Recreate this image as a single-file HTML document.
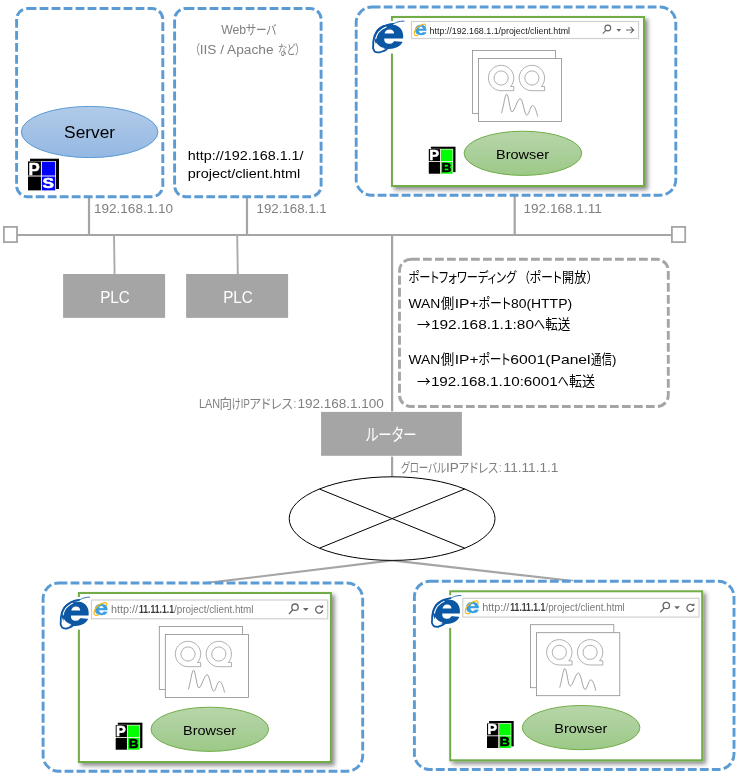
<!DOCTYPE html>
<html lang="ja">
<head>
<meta charset="utf-8">
<title>Network diagram</title>
<style>
html,body{margin:0;padding:0;background:#fff;}
svg{display:block;opacity:0.999;}
text{font-family:"Liberation Sans", "Noto Sans CJK JP", sans-serif;font-kerning:normal;}
.jp{font-feature-settings:"palt" 1;font-weight:400;}
.cj{font-family:"Noto Sans CJK JP","Liberation Sans",sans-serif;font-weight:400;}
</style>
</head>
<body>
<svg width="742" height="777" viewBox="0 0 742 777">
<defs>
<linearGradient id="gb" x1="0" y1="0" x2="0" y2="1"><stop offset="0" stop-color="#b1cbe9"/><stop offset="0.5" stop-color="#a3c1e5"/><stop offset="1" stop-color="#94b8e3"/></linearGradient>
<linearGradient id="gg" x1="0" y1="0" x2="0" y2="1"><stop offset="0" stop-color="#b7d6a9"/><stop offset="0.5" stop-color="#aacf9a"/><stop offset="1" stop-color="#9dc987"/></linearGradient>
<filter id="sh" x="-5%" y="-5%" width="115%" height="115%"><feDropShadow dx="2.8" dy="2.8" stdDeviation="2.1" flood-color="#000" flood-opacity="0.45"/></filter>
</defs>
<rect width="742" height="777" fill="#fff"/>

<line x1="17" y1="235" x2="672" y2="235" stroke="#a5a5a5" stroke-width="2.2"/>
<line x1="89" y1="196" x2="89" y2="235" stroke="#a5a5a5" stroke-width="2.2"/>
<line x1="247" y1="196" x2="247" y2="235" stroke="#a5a5a5" stroke-width="2.2"/>
<line x1="514.7" y1="195" x2="514.7" y2="235" stroke="#a5a5a5" stroke-width="2.2"/>
<line x1="114.0" y1="235" x2="114.6" y2="274" stroke="#ababab" stroke-width="1.9"/>
<line x1="237.2" y1="235" x2="237.8" y2="274" stroke="#ababab" stroke-width="1.9"/>
<line x1="392.1" y1="235" x2="392.1" y2="411.4" stroke="#a5a5a5" stroke-width="2.2"/>
<line x1="392.1" y1="456.6" x2="392.1" y2="477" stroke="#a5a5a5" stroke-width="2.2"/>
<rect x="3.9" y="226.9" width="13.1" height="15.2" fill="#fff" stroke="#a5a5a5" stroke-width="1.8"/>
<rect x="671.9" y="226.9" width="13.3" height="15.2" fill="#fff" stroke="#a5a5a5" stroke-width="1.8"/>
<line x1="392" y1="560.4" x2="203.6" y2="583.4" stroke="#a5a5a5" stroke-width="2.2"/>
<line x1="392" y1="560.4" x2="573.5" y2="581" stroke="#a5a5a5" stroke-width="2.2"/>
<rect x="16.6" y="8.5" width="146.2" height="188.2" rx="11" ry="11" fill="#fff" stroke="#5b9bd5" stroke-width="2.9" stroke-dasharray="8.8 3.2"/>
<rect x="174.6" y="8.5" width="146.5" height="188.2" rx="11" ry="11" fill="#fff" stroke="#5b9bd5" stroke-width="2.9" stroke-dasharray="8.8 3.2"/>
<ellipse cx="89.6" cy="132" rx="68.3" ry="25.6" fill="url(#gb)" stroke="#5b9bd5" stroke-width="1"/>
<text x="89.6" y="137.6" font-size="16" fill="#000" text-anchor="middle" textLength="51" lengthAdjust="spacingAndGlyphs">Server</text>
<g>
<rect x="30.00" y="158.70" width="29.00" height="30.30" fill="#000"/>
<rect x="28.00" y="161.10" width="28.00" height="29.60" fill="#f4f2e4"/>
<rect x="28.00" y="161.40" width="12.91" height="14.12" fill="#000"/>
<rect x="41.92" y="161.80" width="13.24" height="13.72" fill="#0000ff"/>
<rect x="28.00" y="176.52" width="12.91" height="13.82" fill="#000"/>
<rect x="41.92" y="176.52" width="13.24" height="13.82" fill="#0000ff"/>
<text x="34.10" y="174.62" font-size="17.02" font-weight="bold" fill="#fff" stroke="#fff" stroke-width="0.5" text-anchor="middle" textLength="11.20" lengthAdjust="spacingAndGlyphs">P</text>
<text x="48.34" y="188.10" font-size="14.06" font-weight="bold" fill="#fff" stroke="#fff" stroke-width="0.5" text-anchor="middle" textLength="11.48" lengthAdjust="spacingAndGlyphs">S</text>
</g>
<text y="34.1" font-size="12" fill="#7f7f7f"><tspan x="221.2" textLength="24.9" lengthAdjust="spacingAndGlyphs">Web</tspan><tspan x="246.1" textLength="30.4" lengthAdjust="spacingAndGlyphs" font-size="13" class="jp">サーバ</tspan></text>
<text y="53.9" font-size="12" fill="#7f7f7f"><tspan x="195.0" textLength="4.8" lengthAdjust="spacingAndGlyphs" font-size="13" class="jp">（</tspan><tspan x="199.7" textLength="73.9" lengthAdjust="spacingAndGlyphs">IIS / Apache</tspan><tspan x="278.2" textLength="16.9" lengthAdjust="spacingAndGlyphs" font-size="13" class="jp">など</tspan><tspan x="295.4" textLength="4.8" lengthAdjust="spacingAndGlyphs" font-size="13" class="jp">）</tspan></text>
<text x="187.8" y="160" font-size="13.3" fill="#000" textLength="115.8" lengthAdjust="spacingAndGlyphs">http://192.168.1.1/</text>
<text x="187.8" y="178.2" font-size="13.3" fill="#000" textLength="112.4" lengthAdjust="spacingAndGlyphs">project/client.html</text>
<text x="94" y="212.8" font-size="12" fill="#7f7f7f" textLength="79" lengthAdjust="spacingAndGlyphs">192.168.1.10</text>
<text x="256.5" y="212.8" font-size="12" fill="#7f7f7f" textLength="70.2" lengthAdjust="spacingAndGlyphs">192.168.1.1</text>
<text x="523.5" y="212.6" font-size="12" fill="#7f7f7f" textLength="78.3" lengthAdjust="spacingAndGlyphs">192.168.1.11</text>
<rect x="63.1" y="274" width="102" height="43.9" fill="#a5a5a5"/>
<rect x="186.1" y="274" width="102" height="43.9" fill="#a5a5a5"/>
<text x="115" y="302.6" font-size="16" fill="#fff" text-anchor="middle" textLength="29.6" lengthAdjust="spacingAndGlyphs">PLC</text>
<text x="238" y="302.6" font-size="16" fill="#fff" text-anchor="middle" textLength="29.6" lengthAdjust="spacingAndGlyphs">PLC</text>
<rect x="399.5" y="259.3" width="268.8" height="147.2" rx="11.5" ry="11.5" fill="#fff" stroke="#a5a5a5" stroke-width="2.9" stroke-dasharray="8.8 3.2"/>
<text y="282.3" font-size="13.3" fill="#000"><tspan x="408.5" textLength="107.8" lengthAdjust="spacingAndGlyphs" font-size="14.2" class="jp">ポートフォワーディング</tspan><tspan x="523.8" textLength="5.8" lengthAdjust="spacingAndGlyphs" font-size="14.2" class="jp">（</tspan><tspan x="529.6" textLength="32.5" lengthAdjust="spacingAndGlyphs" font-size="14.2" class="jp">ポート</tspan><tspan x="562.1" textLength="24.3" lengthAdjust="spacingAndGlyphs" font-size="14.2" class="jp">開放</tspan><tspan x="587.0" textLength="5.8" lengthAdjust="spacingAndGlyphs" font-size="14.2" class="jp">）</tspan></text>
<text y="307.8" font-size="13.3" fill="#000"><tspan x="408.5" textLength="31.8" lengthAdjust="spacingAndGlyphs">WAN</tspan><tspan x="440.8" textLength="13.5" lengthAdjust="spacingAndGlyphs" font-size="14.2" class="jp">側</tspan><tspan x="454.8" textLength="23.7" lengthAdjust="spacingAndGlyphs">IP+</tspan><tspan x="478.5" textLength="32.4" lengthAdjust="spacingAndGlyphs" font-size="14.2" class="jp">ポート</tspan><tspan x="510.9" textLength="61.2" lengthAdjust="spacingAndGlyphs">80(HTTP)</tspan></text>
<text y="329.4" font-size="13.3" fill="#000"><tspan x="416.9" textLength="13.6" lengthAdjust="spacingAndGlyphs" font-size="14.2" class="cj">→</tspan><tspan x="430.9" textLength="103.1" lengthAdjust="spacingAndGlyphs">192.168.1.1:80</tspan><tspan x="534.0" textLength="11.2" lengthAdjust="spacingAndGlyphs" font-size="14.2" class="jp">へ</tspan><tspan x="545.3" textLength="25.1" lengthAdjust="spacingAndGlyphs" font-size="14.2" class="jp">転送</tspan></text>
<text y="363.6" font-size="13.3" fill="#000"><tspan x="408.5" textLength="31.8" lengthAdjust="spacingAndGlyphs">WAN</tspan><tspan x="440.8" textLength="13.5" lengthAdjust="spacingAndGlyphs" font-size="14.2" class="jp">側</tspan><tspan x="454.8" textLength="23.7" lengthAdjust="spacingAndGlyphs">IP+</tspan><tspan x="478.5" textLength="31.9" lengthAdjust="spacingAndGlyphs" font-size="14.2" class="jp">ポート</tspan><tspan x="510.3" textLength="80.3" lengthAdjust="spacingAndGlyphs">6001(Panel</tspan><tspan x="591.0" textLength="20.9" lengthAdjust="spacingAndGlyphs" font-size="14.2" class="jp">通信</tspan><tspan x="612.0" textLength="4.4" lengthAdjust="spacingAndGlyphs">)</tspan></text>
<text y="385.8" font-size="13.3" fill="#000"><tspan x="416.9" textLength="13.6" lengthAdjust="spacingAndGlyphs" font-size="14.2" class="cj">→</tspan><tspan x="430.9" textLength="126.8" lengthAdjust="spacingAndGlyphs">192.168.1.10:6001</tspan><tspan x="557.8" textLength="11.1" lengthAdjust="spacingAndGlyphs" font-size="14.2" class="jp">へ</tspan><tspan x="569.0" textLength="26.0" lengthAdjust="spacingAndGlyphs" font-size="14.2" class="jp">転送</tspan></text>
<rect x="321.1" y="411.9" width="140.8" height="43.9" fill="#a5a5a5"/>
<text y="441.4" font-size="16" fill="#fff"><tspan x="365.9" textLength="50.6" lengthAdjust="spacingAndGlyphs" font-size="17" class="jp">ルーター</tspan></text>
<text y="407.6" font-size="12" fill="#7f7f7f"><tspan x="199.0" textLength="21.0" lengthAdjust="spacingAndGlyphs">LAN</tspan><tspan x="219.6" textLength="12.5" lengthAdjust="spacingAndGlyphs" font-size="13" class="jp">向</tspan><tspan x="231.9" textLength="8.9" lengthAdjust="spacingAndGlyphs" font-size="13" class="jp">け</tspan><tspan x="240.8" textLength="8.9" lengthAdjust="spacingAndGlyphs">IP</tspan><tspan x="249.4" textLength="43.4" lengthAdjust="spacingAndGlyphs" font-size="13" class="jp">アドレス</tspan><tspan x="293.8" textLength="2.4" lengthAdjust="spacingAndGlyphs">:</tspan><tspan x="297.4" textLength="86.5" lengthAdjust="spacingAndGlyphs">192.168.1.100</tspan></text>
<text y="472.2" font-size="12" fill="#7f7f7f"><tspan x="400.9" textLength="45.2" lengthAdjust="spacingAndGlyphs" font-size="13" class="jp">グローバル</tspan><tspan x="446.0" textLength="12.8" lengthAdjust="spacingAndGlyphs">IP</tspan><tspan x="458.7" textLength="39.6" lengthAdjust="spacingAndGlyphs" font-size="13" class="jp">アドレス</tspan><tspan x="499.0" textLength="2.4" lengthAdjust="spacingAndGlyphs">:</tspan><tspan x="503.6" textLength="54.8" lengthAdjust="spacingAndGlyphs">11.11.1.1</tspan></text>
<ellipse cx="392.1" cy="518.6" rx="102.9" ry="41.8" fill="#fff" stroke="#000" stroke-width="1"/>
<line x1="319.4" y1="489" x2="464.8" y2="548.2" stroke="#000" stroke-width="1"/>
<line x1="319.4" y1="548.2" x2="464.8" y2="489" stroke="#000" stroke-width="1"/>
<!-- browser group -->
<rect x="356.2" y="7.0" width="319.6" height="188.2" rx="15.5" ry="15.5" fill="#fff" stroke="#5b9bd5" stroke-width="2.9" stroke-dasharray="8.8 3.2"/>
<rect x="392.0" y="17.0" width="252" height="169" fill="#fff" stroke="#70ad47" stroke-width="2" filter="url(#sh)"/>
<rect x="472.4" y="50.4" width="83.2" height="63" fill="#fff" stroke="#8c8c8c" stroke-width="0.8"/>
<rect x="478.4" y="58.4" width="83.2" height="63" fill="#fff" stroke="#8c8c8c" stroke-width="0.8"/>
<path d="M501.10 90.70 L513.80 90.70 L513.80 86.50 L510.54 86.50 A12.7 12.7 0 1 0 501.10 90.70 Z" fill="#fff" stroke="#969696" stroke-width="0.75"/>
<circle cx="501.10" cy="78.00" r="7.1" fill="#fff" stroke="#969696" stroke-width="0.75"/>
<path d="M531.90 90.70 L544.60 90.70 L544.60 86.50 L541.34 86.50 A12.7 12.7 0 1 0 531.90 90.70 Z" fill="#fff" stroke="#969696" stroke-width="0.75"/>
<circle cx="531.90" cy="78.00" r="7.1" fill="#fff" stroke="#969696" stroke-width="0.75"/>
<path d="M501.5 113.3 C503.9 105.4 504.9 94.2 506.7 94.2 C508.7 94.2 509.7 111.9 512.0 111.9 C514.4 111.9 517.4 98.7 520.2 98.7 C522.9 98.7 524.4 115.2 526.8 115.2 C528.9 115.2 530.4 105.5 532.6 105.5 C534.6 105.5 536.6 111.4 537.6 116.4" fill="none" stroke="#8c8c8c" stroke-width="0.8"/>
<ellipse cx="522.9" cy="153.3" rx="58.8" ry="22.1" fill="url(#gg)" stroke="#70ad47" stroke-width="1"/>
<text x="522.6" y="158.5" font-size="13.3" fill="#000" text-anchor="middle" textLength="53" lengthAdjust="spacingAndGlyphs">Browser</text>
<g>
<rect x="430.90" y="146.70" width="24.60" height="25.40" fill="#000"/>
<rect x="428.80" y="148.80" width="24.40" height="25.20" fill="#f4f2e4"/>
<rect x="428.80" y="149.10" width="11.25" height="11.97" fill="#000"/>
<rect x="440.93" y="149.50" width="11.54" height="11.57" fill="#00ff00"/>
<rect x="428.80" y="161.95" width="11.25" height="11.75" fill="#000"/>
<rect x="440.93" y="161.95" width="11.54" height="11.75" fill="#00ff00"/>
<text x="434.07" y="160.17" font-size="14.49" font-weight="bold" fill="#fff" stroke="#fff" stroke-width="0.5" text-anchor="middle" textLength="9.76" lengthAdjust="spacingAndGlyphs">P</text>
<text x="446.50" y="171.79" font-size="11.97" font-weight="bold" fill="#000" stroke="#000" stroke-width="0.5" text-anchor="middle" textLength="10.00" lengthAdjust="spacingAndGlyphs">B</text>
</g>
<g transform="translate(372.50 20.90) scale(1.055 1.0)">
<rect x="0" y="0" width="32" height="32.6" fill="#fff"/>
<g transform="translate(16.1 0) skewX(-3) scale(1.25 1)">
<text x="0" y="27.5" font-size="42.5" font-weight="bold" fill="#0b57a4" stroke="#0b57a4" stroke-width="1.3" text-anchor="middle" stroke-linejoin="round">e</text>
</g>
<g fill="none" stroke-linecap="round" stroke-linejoin="round">
<path d="M12.90 6.05 C11.35 7.01 10.97 6.60 8.26 8.94 C5.55 11.27 6.48 10.10 4.76 13.05 C3.04 16.00 3.65 16.20 3.10 17.77" stroke="#fff" stroke-width="1.2"/>
<path d="M3.6 21.5 C3 25 3.2 28.2 5 29.2 C7 29.8 9.5 28.6 11.5 27.2 C8 26.5 5.2 24.5 3.6 21.5 Z" fill="#fff" stroke="none"/>
<path d="M19.20 2.90 C16.97 3.47 16.50 2.93 12.50 4.60 C8.50 6.27 10.30 5.23 7.20 7.90 C4.10 10.57 5.17 9.23 3.20 12.60 C1.23 15.97 2.13 14.20 1.30 18.00 C0.47 21.80 0.73 20.33 0.70 24.00 C0.67 27.67 -0.10 26.53 1.20 29.00 C2.50 31.47 1.93 30.87 4.60 31.40 C7.27 31.93 6.20 31.63 9.20 30.60 C12.20 29.57 12.13 29.07 13.60 28.30" stroke="#0b57a4" stroke-width="1.8"/>
<path d="M29.90 0.20 C28.10 0.43 28.07 0.00 24.50 0.90 C20.93 1.80 23.20 1.67 19.20 2.90 C15.20 4.13 14.73 4.03 12.50 4.60" stroke="#0b57a4" stroke-width="0.9"/>
</g>
</g>
<rect x="411.5" y="21.5" width="227" height="17" fill="#fff" stroke="#d0d0d0" stroke-width="1.2"/>
<g transform="translate(414.20 23.90) scale(0.895)">
<g transform="translate(7.15 0) scale(1.22 1)">
<text x="0" y="12.65" font-size="20.5" font-weight="bold" fill="#3a9fe0" stroke="#3a9fe0" stroke-width="0.5" text-anchor="middle">e</text>
</g>
<path d="M4.30 12.50 C3.70 12.70 3.77 13.20 2.50 13.10 C1.23 13.00 1.27 13.33 0.50 12.20 C-0.27 11.07 -0.13 11.63 0.20 9.70 C0.53 7.77 0.20 8.47 1.50 6.40 C2.80 4.33 2.17 5.17 4.10 3.50 C6.03 1.83 5.13 2.43 7.30 1.40 C9.47 0.37 8.90 0.57 10.60 0.40 C12.30 0.23 11.70 0.03 12.40 0.90 C13.10 1.77 12.60 2.30 12.70 3.00" fill="none" stroke="#f6b915" stroke-width="1.25" stroke-linecap="round"/>
</g>
<text x="429.6" y="33.6" font-size="9.6" fill="#222" textLength="140.4" lengthAdjust="spacingAndGlyphs">http://192.168.1.1/project/client.html</text>
<g stroke="#666" fill="none" stroke-width="1.1"><circle cx="607.8" cy="28.0" r="2.9"/><line x1="605.8" y1="30.3" x2="602.8" y2="33.7"/></g>
<path d="M616.5 29.1 h4.6 l-2.3 2.6 z" fill="#666"/>
<path d="M626.1 30.0 h7.6 m-3.2 -3.2 l3.2 3.2 l-3.2 3.2" fill="none" stroke="#666" stroke-width="1.1"/>
<!-- browser group -->
<rect x="43.1" y="583.0" width="319.6" height="188.2" rx="15.5" ry="15.5" fill="#fff" stroke="#5b9bd5" stroke-width="2.9" stroke-dasharray="8.8 3.2"/>
<rect x="78.9" y="593.0" width="252" height="169" fill="#fff" stroke="#70ad47" stroke-width="2" filter="url(#sh)"/>
<rect x="159.3" y="626.4" width="83.2" height="63" fill="#fff" stroke="#8c8c8c" stroke-width="0.8"/>
<rect x="165.3" y="634.4" width="83.2" height="63" fill="#fff" stroke="#8c8c8c" stroke-width="0.8"/>
<path d="M188.00 666.70 L200.70 666.70 L200.70 662.50 L197.44 662.50 A12.7 12.7 0 1 0 188.00 666.70 Z" fill="#fff" stroke="#969696" stroke-width="0.75"/>
<circle cx="188.00" cy="654.00" r="7.1" fill="#fff" stroke="#969696" stroke-width="0.75"/>
<path d="M218.80 666.70 L231.50 666.70 L231.50 662.50 L228.24 662.50 A12.7 12.7 0 1 0 218.80 666.70 Z" fill="#fff" stroke="#969696" stroke-width="0.75"/>
<circle cx="218.80" cy="654.00" r="7.1" fill="#fff" stroke="#969696" stroke-width="0.75"/>
<path d="M188.4 689.3 C190.8 681.4 191.8 670.2 193.6 670.2 C195.6 670.2 196.6 687.9 198.9 687.9 C201.3 687.9 204.3 674.7 207.1 674.7 C209.8 674.7 211.3 691.2 213.7 691.2 C215.8 691.2 217.3 681.5 219.5 681.5 C221.5 681.5 223.5 687.4 224.5 692.4" fill="none" stroke="#8c8c8c" stroke-width="0.8"/>
<ellipse cx="209.8" cy="729.3" rx="58.8" ry="22.1" fill="url(#gg)" stroke="#70ad47" stroke-width="1"/>
<text x="209.5" y="734.5" font-size="13.3" fill="#000" text-anchor="middle" textLength="53" lengthAdjust="spacingAndGlyphs">Browser</text>
<g>
<rect x="117.80" y="722.70" width="24.60" height="25.40" fill="#000"/>
<rect x="115.70" y="724.80" width="24.40" height="25.20" fill="#f4f2e4"/>
<rect x="115.70" y="725.10" width="11.25" height="11.97" fill="#000"/>
<rect x="127.83" y="725.50" width="11.54" height="11.57" fill="#00ff00"/>
<rect x="115.70" y="737.95" width="11.25" height="11.75" fill="#000"/>
<rect x="127.83" y="737.95" width="11.54" height="11.75" fill="#00ff00"/>
<text x="120.97" y="736.17" font-size="14.49" font-weight="bold" fill="#fff" stroke="#fff" stroke-width="0.5" text-anchor="middle" textLength="9.76" lengthAdjust="spacingAndGlyphs">P</text>
<text x="133.40" y="747.79" font-size="11.97" font-weight="bold" fill="#000" stroke="#000" stroke-width="0.5" text-anchor="middle" textLength="10.00" lengthAdjust="spacingAndGlyphs">B</text>
</g>
<g transform="translate(60.10 597.00) scale(0.985 1.0)">
<rect x="0" y="0" width="32" height="32.6" fill="#fff"/>
<g transform="translate(16.1 0) skewX(-3) scale(1.25 1)">
<text x="0" y="27.5" font-size="42.5" font-weight="bold" fill="#0b57a4" stroke="#0b57a4" stroke-width="1.3" text-anchor="middle" stroke-linejoin="round">e</text>
</g>
<g fill="none" stroke-linecap="round" stroke-linejoin="round">
<path d="M12.90 6.05 C11.35 7.01 10.97 6.60 8.26 8.94 C5.55 11.27 6.48 10.10 4.76 13.05 C3.04 16.00 3.65 16.20 3.10 17.77" stroke="#fff" stroke-width="1.2"/>
<path d="M3.6 21.5 C3 25 3.2 28.2 5 29.2 C7 29.8 9.5 28.6 11.5 27.2 C8 26.5 5.2 24.5 3.6 21.5 Z" fill="#fff" stroke="none"/>
<path d="M19.20 2.90 C16.97 3.47 16.50 2.93 12.50 4.60 C8.50 6.27 10.30 5.23 7.20 7.90 C4.10 10.57 5.17 9.23 3.20 12.60 C1.23 15.97 2.13 14.20 1.30 18.00 C0.47 21.80 0.73 20.33 0.70 24.00 C0.67 27.67 -0.10 26.53 1.20 29.00 C2.50 31.47 1.93 30.87 4.60 31.40 C7.27 31.93 6.20 31.63 9.20 30.60 C12.20 29.57 12.13 29.07 13.60 28.30" stroke="#0b57a4" stroke-width="1.8"/>
<path d="M29.90 0.20 C28.10 0.43 28.07 0.00 24.50 0.90 C20.93 1.80 23.20 1.67 19.20 2.90 C15.20 4.13 14.73 4.03 12.50 4.60" stroke="#0b57a4" stroke-width="0.9"/>
</g>
</g>
<rect x="91.5" y="600.0" width="236.2" height="18.8" fill="#fff" stroke="#d0d0d0" stroke-width="1.2"/>
<g transform="translate(94.00 602.30) scale(1.000)">
<g transform="translate(7.15 0) scale(1.22 1)">
<text x="0" y="12.65" font-size="20.5" font-weight="bold" fill="#3a9fe0" stroke="#3a9fe0" stroke-width="0.5" text-anchor="middle">e</text>
</g>
<path d="M4.30 12.50 C3.70 12.70 3.77 13.20 2.50 13.10 C1.23 13.00 1.27 13.33 0.50 12.20 C-0.27 11.07 -0.13 11.63 0.20 9.70 C0.53 7.77 0.20 8.47 1.50 6.40 C2.80 4.33 2.17 5.17 4.10 3.50 C6.03 1.83 5.13 2.43 7.30 1.40 C9.47 0.37 8.90 0.57 10.60 0.40 C12.30 0.23 11.70 0.03 12.40 0.90 C13.10 1.77 12.60 2.30 12.70 3.00" fill="none" stroke="#f6b915" stroke-width="1.25" stroke-linecap="round"/>
</g>
<text y="612.8" font-size="10.3" fill="#7a7a7a"><tspan x="110.9" textLength="27.2" lengthAdjust="spacingAndGlyphs">http://</tspan><tspan x="139.0" textLength="35" lengthAdjust="spacingAndGlyphs" font-weight="bold" fill="#3a3a3a">11.11.1.1</tspan><tspan x="174.1" textLength="79.4" lengthAdjust="spacingAndGlyphs">/project/client.html</tspan></text>
<g stroke="#666" fill="none" stroke-width="1.3"><circle cx="295.0" cy="607.2" r="3.2"/><line x1="292.8" y1="609.8" x2="289.0" y2="614.0"/></g>
<path d="M302.9 608.0 h5.8 l-2.9 3 z" fill="#666"/>
<path d="M321.7 607.2 A3.5 3.5 0 1 0 322.6 610.1" fill="none" stroke="#666" stroke-width="1.3"/>
<path d="M320.0 607.8 h3.1 v-3.1 z" fill="#666"/>
<!-- browser group -->
<rect x="414.4" y="581.3" width="319.6" height="188.2" rx="15.5" ry="15.5" fill="#fff" stroke="#5b9bd5" stroke-width="2.9" stroke-dasharray="8.8 3.2"/>
<rect x="450.2" y="591.3" width="252" height="169" fill="#fff" stroke="#70ad47" stroke-width="2" filter="url(#sh)"/>
<rect x="530.6" y="624.7" width="83.2" height="63" fill="#fff" stroke="#8c8c8c" stroke-width="0.8"/>
<rect x="536.6" y="632.7" width="83.2" height="63" fill="#fff" stroke="#8c8c8c" stroke-width="0.8"/>
<path d="M559.30 665.00 L572.00 665.00 L572.00 660.80 L568.74 660.80 A12.7 12.7 0 1 0 559.30 665.00 Z" fill="#fff" stroke="#969696" stroke-width="0.75"/>
<circle cx="559.30" cy="652.30" r="7.1" fill="#fff" stroke="#969696" stroke-width="0.75"/>
<path d="M590.10 665.00 L602.80 665.00 L602.80 660.80 L599.54 660.80 A12.7 12.7 0 1 0 590.10 665.00 Z" fill="#fff" stroke="#969696" stroke-width="0.75"/>
<circle cx="590.10" cy="652.30" r="7.1" fill="#fff" stroke="#969696" stroke-width="0.75"/>
<path d="M559.7 687.6 C562.1 679.7 563.1 668.5 564.9 668.5 C566.9 668.5 567.9 686.2 570.2 686.2 C572.6 686.2 575.6 673.0 578.4 673.0 C581.1 673.0 582.6 689.5 585.0 689.5 C587.1 689.5 588.6 679.8 590.8 679.8 C592.8 679.8 594.8 685.7 595.8 690.7" fill="none" stroke="#8c8c8c" stroke-width="0.8"/>
<ellipse cx="581.1" cy="727.6" rx="58.8" ry="22.1" fill="url(#gg)" stroke="#70ad47" stroke-width="1"/>
<text x="580.8" y="732.8" font-size="13.3" fill="#000" text-anchor="middle" textLength="53" lengthAdjust="spacingAndGlyphs">Browser</text>
<g>
<rect x="489.10" y="721.00" width="24.60" height="25.40" fill="#000"/>
<rect x="487.00" y="723.10" width="24.40" height="25.20" fill="#f4f2e4"/>
<rect x="487.00" y="723.40" width="11.25" height="11.97" fill="#000"/>
<rect x="499.13" y="723.80" width="11.54" height="11.57" fill="#00ff00"/>
<rect x="487.00" y="736.25" width="11.25" height="11.75" fill="#000"/>
<rect x="499.13" y="736.25" width="11.54" height="11.75" fill="#00ff00"/>
<text x="492.27" y="734.47" font-size="14.49" font-weight="bold" fill="#fff" stroke="#fff" stroke-width="0.5" text-anchor="middle" textLength="9.76" lengthAdjust="spacingAndGlyphs">P</text>
<text x="504.70" y="746.09" font-size="11.97" font-weight="bold" fill="#000" stroke="#000" stroke-width="0.5" text-anchor="middle" textLength="10.00" lengthAdjust="spacingAndGlyphs">B</text>
</g>
<g transform="translate(431.40 595.30) scale(0.985 1.0)">
<rect x="0" y="0" width="32" height="32.6" fill="#fff"/>
<g transform="translate(16.1 0) skewX(-3) scale(1.25 1)">
<text x="0" y="27.5" font-size="42.5" font-weight="bold" fill="#0b57a4" stroke="#0b57a4" stroke-width="1.3" text-anchor="middle" stroke-linejoin="round">e</text>
</g>
<g fill="none" stroke-linecap="round" stroke-linejoin="round">
<path d="M12.90 6.05 C11.35 7.01 10.97 6.60 8.26 8.94 C5.55 11.27 6.48 10.10 4.76 13.05 C3.04 16.00 3.65 16.20 3.10 17.77" stroke="#fff" stroke-width="1.2"/>
<path d="M3.6 21.5 C3 25 3.2 28.2 5 29.2 C7 29.8 9.5 28.6 11.5 27.2 C8 26.5 5.2 24.5 3.6 21.5 Z" fill="#fff" stroke="none"/>
<path d="M19.20 2.90 C16.97 3.47 16.50 2.93 12.50 4.60 C8.50 6.27 10.30 5.23 7.20 7.90 C4.10 10.57 5.17 9.23 3.20 12.60 C1.23 15.97 2.13 14.20 1.30 18.00 C0.47 21.80 0.73 20.33 0.70 24.00 C0.67 27.67 -0.10 26.53 1.20 29.00 C2.50 31.47 1.93 30.87 4.60 31.40 C7.27 31.93 6.20 31.63 9.20 30.60 C12.20 29.57 12.13 29.07 13.60 28.30" stroke="#0b57a4" stroke-width="1.8"/>
<path d="M29.90 0.20 C28.10 0.43 28.07 0.00 24.50 0.90 C20.93 1.80 23.20 1.67 19.20 2.90 C15.20 4.13 14.73 4.03 12.50 4.60" stroke="#0b57a4" stroke-width="0.9"/>
</g>
</g>
<rect x="462.8" y="598.3" width="236.2" height="18.8" fill="#fff" stroke="#d0d0d0" stroke-width="1.2"/>
<g transform="translate(465.30 600.60) scale(1.000)">
<g transform="translate(7.15 0) scale(1.22 1)">
<text x="0" y="12.65" font-size="20.5" font-weight="bold" fill="#3a9fe0" stroke="#3a9fe0" stroke-width="0.5" text-anchor="middle">e</text>
</g>
<path d="M4.30 12.50 C3.70 12.70 3.77 13.20 2.50 13.10 C1.23 13.00 1.27 13.33 0.50 12.20 C-0.27 11.07 -0.13 11.63 0.20 9.70 C0.53 7.77 0.20 8.47 1.50 6.40 C2.80 4.33 2.17 5.17 4.10 3.50 C6.03 1.83 5.13 2.43 7.30 1.40 C9.47 0.37 8.90 0.57 10.60 0.40 C12.30 0.23 11.70 0.03 12.40 0.90 C13.10 1.77 12.60 2.30 12.70 3.00" fill="none" stroke="#f6b915" stroke-width="1.25" stroke-linecap="round"/>
</g>
<text y="611.1" font-size="10.3" fill="#7a7a7a"><tspan x="482.2" textLength="27.2" lengthAdjust="spacingAndGlyphs">http://</tspan><tspan x="510.3" textLength="35" lengthAdjust="spacingAndGlyphs" font-weight="bold" fill="#3a3a3a">11.11.1.1</tspan><tspan x="545.4" textLength="79.4" lengthAdjust="spacingAndGlyphs">/project/client.html</tspan></text>
<g stroke="#666" fill="none" stroke-width="1.3"><circle cx="666.3" cy="605.5" r="3.2"/><line x1="664.1" y1="608.1" x2="660.3" y2="612.3"/></g>
<path d="M674.2 606.3 h5.8 l-2.9 3 z" fill="#666"/>
<path d="M693.0 605.5 A3.5 3.5 0 1 0 693.9 608.4" fill="none" stroke="#666" stroke-width="1.3"/>
<path d="M691.3 606.1 h3.1 v-3.1 z" fill="#666"/>
</svg>
</body>
</html>
